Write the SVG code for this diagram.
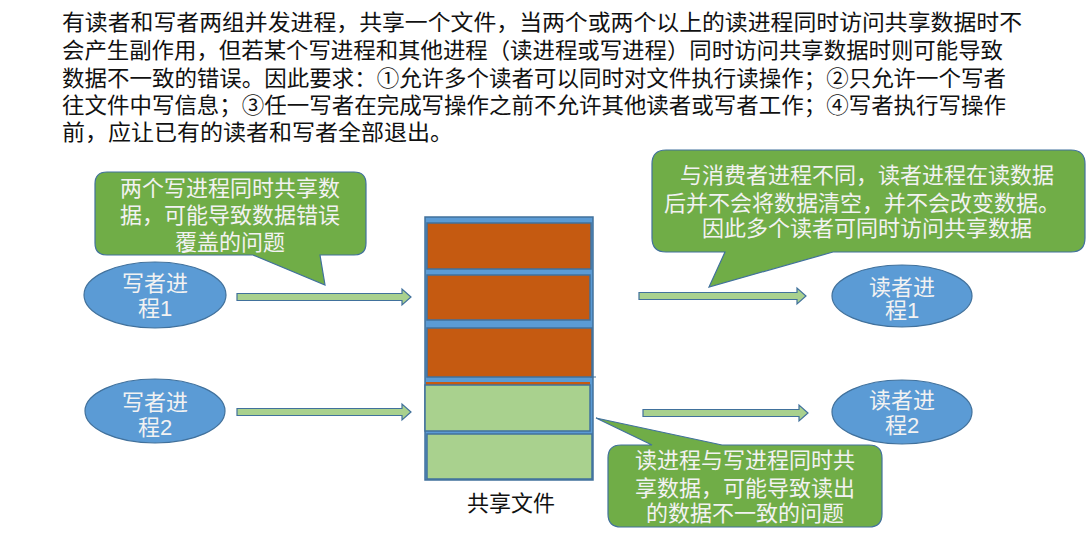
<svg xmlns="http://www.w3.org/2000/svg" width="1092" height="541" viewBox="0 0 1092 541">
<style>
.para{font-family:"Liberation Sans","Noto Sans CJK SC",sans-serif;font-size:22px;fill:#111}
.wt{font-family:"Liberation Sans","Noto Sans CJK SC",sans-serif;font-size:22px;fill:#f2f2f2;text-anchor:middle}
.call{fill:#70AD47;stroke:#41719C;stroke-width:1.2}
.ell{fill:#5B9BD5;stroke:#41719C;stroke-width:1.2}
.arr{fill:#A9D18E;stroke:#41719C;stroke-width:1.2}
.org{fill:#C55A11;stroke:#41719C;stroke-width:1.5}
.grn{fill:#A9D18E;stroke:#41719C;stroke-width:1.5}
.cap{font-family:"Liberation Sans","Noto Sans CJK SC",sans-serif;font-size:22px;fill:#111;text-anchor:middle}
</style>
<rect width="1092" height="541" fill="#fff"/>
<g id="paragraph">
<text class="para" x="62" y="30" textLength="960" lengthAdjust="spacingAndGlyphs">有读者和写者两组并发进程，共享一个文件，当两个或两个以上的读进程同时访问共享数据时不</text>
<text class="para" x="62" y="58" textLength="941" lengthAdjust="spacingAndGlyphs">会产生副作用，但若某个写进程和其他进程（读进程或写进程）同时访问共享数据时则可能导致</text>
<text class="para" x="62" y="86" textLength="944" lengthAdjust="spacingAndGlyphs">数据不一致的错误。因此要求：①允许多个读者可以同时对文件执行读操作；②只允许一个写者</text>
<text class="para" x="62" y="113" textLength="944" lengthAdjust="spacingAndGlyphs">往文件中写信息；③任一写者在完成写操作之前不允许其他读者或写者工作；④写者执行写操作</text>
<text class="para" x="62" y="140" textLength="391" lengthAdjust="spacingAndGlyphs">前，应让已有的读者和写者全部退出。</text>
</g>
<g id="file">
<rect x="425" y="217" width="168" height="263" fill="#5B9BD5" stroke="#41719C" stroke-width="1.5"/>
<rect class="org" x="427" y="223" width="164" height="46"/>
<rect class="org" x="427" y="275" width="163" height="45"/>
<rect class="org" x="427" y="328" width="165" height="49"/>
<line x1="590" y1="377" x2="596" y2="377" stroke="#41719C" stroke-width="1"/>
<rect x="426" y="382" width="164" height="4" fill="#C55A11"/>
<rect class="grn" x="425" y="385" width="165" height="46"/>
<rect class="grn" x="427" y="434" width="165" height="45"/>
<text class="cap" x="511" y="511">共享文件</text>
</g>
<g id="writer1">
<ellipse class="ell" cx="155" cy="295" rx="71" ry="33"/>
<text class="wt" x="155" y="291">写者进</text>
<text class="wt" x="155" y="316">程1</text>
</g>
<g id="writer2">
<ellipse class="ell" cx="155" cy="411" rx="70" ry="32"/>
<text class="wt" x="155" y="410">写者进</text>
<text class="wt" x="155" y="435">程2</text>
</g>
<g id="reader1">
<ellipse class="ell" cx="902" cy="296" rx="70" ry="31"/>
<text class="wt" x="902" y="295">读者进</text>
<text class="wt" x="902" y="318">程1</text>
</g>
<g id="reader2">
<ellipse class="ell" cx="902" cy="412" rx="70" ry="32"/>
<text class="wt" x="902" y="408">读者进</text>
<text class="wt" x="902" y="433">程2</text>
</g>
<g id="callout1">
<path class="call" d="M107,172 H354 Q366,172 366,184 V243 Q366,255 354,255 H320 L325,285 L253,255 H107 Q95,255 95,243 V184 Q95,172 107,172 Z"/>
<text class="wt" x="230" y="196">两个写进程同时共享数</text>
<text class="wt" x="230" y="223">据，可能导致数据错误</text>
<text class="wt" x="230" y="250">覆盖的问题</text>
</g>
<g id="callout2">
<path class="call" d="M666,150 H1071 Q1085,150 1085,164 V238 Q1085,252 1071,252 H833 L709,287 L725,252 H666 Q652,252 652,238 V164 Q652,150 666,150 Z"/>
<text class="wt" x="867" y="183">与消费者进程不同，读者进程在读数据</text>
<text class="wt" x="862" y="211">后并不会将数据清空，并不会改变数据。</text>
<text class="wt" x="867" y="236">因此多个读者可同时访问共享数据</text>
</g>
<g id="callout3">
<path class="call" d="M621,445 H652 L596,418 L722,445 H869 Q882,445 882,458 V514 Q882,527 869,527 H621 Q608,527 608,514 V458 Q608,445 621,445 Z"/>
<text class="wt" x="745" y="468">读进程与写进程同时共</text>
<text class="wt" x="745" y="496">享数据，可能导致读出</text>
<text class="wt" x="745" y="521">的数据不一致的问题</text>
</g>
<g id="connectors">
<path class="arr" d="M237,293.5 H402 V289 L411,297 L402,305 V300.5 H237 Z"/>
<path class="arr" d="M237,408.5 H402 V404 L411,412 L402,420 V415.5 H237 Z"/>
<path class="arr" d="M639,292.5 H797 V288 L806,296 L797,304 V299.5 H639 Z"/>
<path class="arr" d="M643,409.5 H799 V405 L808,413 L799,421 V416.5 H643 Z"/>
</g>
</svg>
